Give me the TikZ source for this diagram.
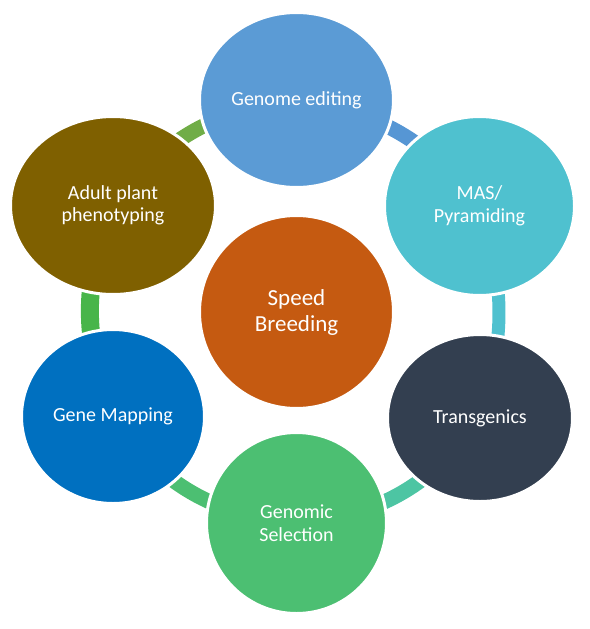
\documentclass[tikz,border=0pt]{standalone}
\usepackage{fontspec}
\setmainfont{Carlito}
\usetikzlibrary{shapes.geometric,backgrounds}
\definecolor{genomeC}{HTML}{5B9BD5}
\definecolor{masC}{HTML}{4FC1CF}
\definecolor{transC}{HTML}{333F50}
\definecolor{genomicC}{HTML}{4CBF72}
\definecolor{mapC}{HTML}{0070C0}
\definecolor{adultC}{HTML}{7F6000}
\definecolor{speedC}{HTML}{C55A11}
\definecolor{linkAG}{HTML}{70AD47}
\definecolor{linkGM}{HTML}{5696D4}
\definecolor{linkMT}{HTML}{4FC1CF}
\definecolor{linkTS}{HTML}{4DC5A3}
\definecolor{linkSM}{HTML}{4CBF72}
\definecolor{linkMA}{HTML}{48B54A}
\begin{document}
\begin{tikzpicture}[x=1pt,y=-1pt,
  bubble/.style={ellipse, draw=white, line width=3pt, text=white, align=center,
    inner sep=0pt, font=\fontsize{20}{22.5}\selectfont},
  link/.style={line width=15pt}]
\useasboundingbox (0,0) rectangle (589,629);
\node[bubble, fill=speedC, minimum width=194pt, minimum height=193pt,
  font=\fontsize{23}{26}\selectfont] (speed) at (296.5,312) {Speed\\Breeding};
\node[bubble, fill=genomeC, minimum width=194pt, minimum height=175pt] (genome) at (296.5,100) {Genome editing};
\node[bubble, fill=masC, minimum width=190pt, minimum height=179pt] (mas) at (479.5,206) {MAS/\\Pyramiding};
\node[bubble, fill=transC, minimum width=185pt, minimum height=167pt] (trans) at (480,418) {Transgenics};
\node[bubble, fill=genomicC, minimum width=180pt, minimum height=181pt] (genomic) at (296.5,523) {Genomic\\Selection};
\node[bubble, fill=mapC, minimum width=183pt, minimum height=174pt] (map) at (113,416.5) {Gene Mapping};
\node[bubble, fill=adultC, minimum width=205pt, minimum height=178pt] (adult) at (113,205.5) {Adult plant\\phenotyping};
\begin{scope}[on background layer]
\draw[link, linkAG] (adult.center) to[bend left=23] (genome.center);
\draw[link, linkGM] (genome.center) to[bend left=22] (mas.center);
\draw[link, linkMT, line width=13pt] (mas.center) to[bend left=18] (trans.center);
\draw[link, linkTS] (trans.center) to[bend left=25] (genomic.center);
\draw[link, linkSM] (genomic.center) to[bend left=25] (map.center);
\draw[link, linkMA, line width=18pt] (map.center) to[bend left=22] (adult.center);
\end{scope}
\end{tikzpicture}
\end{document}
